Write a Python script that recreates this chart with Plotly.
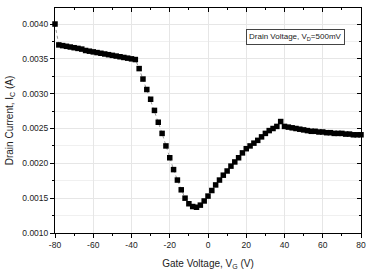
import plotly.graph_objects as go

gate_voltage = [-80, -78, -76, -74, -72, -70, -68, -66, -64, -62, -60, -58, -56, -54, -52, -50,
                -48, -46, -44, -42, -40, -38, -36, -34, -32, -30, -28, -26, -24, -22, -20, -18,
                -16, -14, -12, -10, -8, -6, -4, -2, 0, 2, 4, 6, 8, 10, 12, 14, 16, 18, 20, 22,
                24, 26, 28, 30, 32, 34, 36, 38, 40, 42, 44, 46, 48, 50, 52, 54, 56, 58, 60, 62,
                64, 66, 68, 70, 72, 74, 76, 78, 80]
drain_current = [0.00400, 0.00370, 0.00369, 0.00368, 0.00367, 0.00366, 0.00365, 0.00364,
                 0.00362, 0.00361, 0.00360, 0.00359, 0.00358, 0.00357, 0.00356, 0.00355,
                 0.00354, 0.00353, 0.00352, 0.00351, 0.00350, 0.00349, 0.00336, 0.00321,
                 0.00306, 0.00292, 0.00276, 0.00259, 0.00243, 0.00225, 0.00208, 0.00191,
                 0.00176, 0.00162, 0.00150, 0.00142, 0.00138, 0.00137, 0.00140, 0.00146,
                 0.00153, 0.00161, 0.00169, 0.00176, 0.00183, 0.00189, 0.00196, 0.00202,
                 0.00208, 0.00215, 0.00221, 0.00225, 0.00229, 0.00233, 0.00238, 0.00243,
                 0.00247, 0.00250, 0.00253, 0.00260, 0.00253, 0.00252, 0.00251, 0.00250,
                 0.00249, 0.00248, 0.00247, 0.00246, 0.00246, 0.00245, 0.00245, 0.00244,
                 0.00244, 0.00243, 0.00243, 0.00243, 0.00242, 0.00242, 0.00241, 0.00241,
                 0.00241]

x_ticks = [-80, -60, -40, -20, 0, 20, 40, 60, 80]
x_tick_labels = ["-80", "-60", "-40", "-20", "0", "20", "40", "60", "80"]
y_ticks = [0.0010, 0.0015, 0.0020, 0.0025, 0.0030, 0.0035, 0.0040]
y_tick_labels = ["0.0010", "0.0015", "0.0020", "0.0025", "0.0030", "0.0035", "0.0040"]
x_range = [-80, 80]
y_range = [0.0010, 0.00423]

font = "Liberation Sans, Arial, sans-serif"

fig = go.Figure()
fig.add_trace(go.Scatter(
    x=gate_voltage, y=drain_current, mode="lines+markers",
    line=dict(color="#9a9a9a", width=1, dash="dot"),
    marker=dict(symbol="square", size=5.5, color="black"),
    cliponaxis=False, showlegend=False,
))

axis_common = dict(showline=True, linecolor="black", linewidth=1, zeroline=False,
                   ticklen=4, tickcolor="black", tickwidth=1,
                   tickfont=dict(family=font, size=8.5, color="#222"))

fig.update_layout(
    width=373, height=274,
    margin=dict(l=55, r=7, t=8, b=37),
    paper_bgcolor="white", plot_bgcolor="white",
    xaxis=dict(range=x_range, tickvals=x_ticks, ticktext=x_tick_labels, ticks="outside",
               showgrid=True, gridcolor="#e6e6e6", gridwidth=1,
               minor=dict(dtick=10, ticks="outside", ticklen=2, tickcolor="black", showgrid=False),
               title=dict(text="Gate Voltage, V<sub>G</sub> (V)", font=dict(family=font, size=10, color="#222"), standoff=10),
               **axis_common),
    yaxis=dict(range=y_range, tickvals=y_ticks, ticktext=y_tick_labels, ticks="outside",
               showgrid=True, gridcolor="#e6e6e6", gridwidth=1,
               minor=dict(dtick=0.00025, ticks="outside", ticklen=2, tickcolor="black",
                          showgrid=True, gridcolor="#f0f0f0"),
               title=dict(text="Drain Current, I<sub>C</sub> (A)", font=dict(family=font, size=10, color="#222"), standoff=6),
               **axis_common),
    xaxis2=dict(overlaying="x", side="top", anchor="y", range=x_range, tickvals=x_ticks,
                ticks="inside", showticklabels=False, showgrid=False, showline=True,
                linecolor="black", linewidth=1, ticklen=4, tickcolor="black", zeroline=False,
                minor=dict(dtick=10, ticks="inside", ticklen=2, tickcolor="black")),
    yaxis2=dict(overlaying="y", side="right", anchor="x", range=y_range, tickvals=y_ticks,
                ticks="inside", showticklabels=False, showgrid=False, showline=True,
                linecolor="black", linewidth=1, ticklen=4, tickcolor="black", zeroline=False,
                minor=dict(dtick=0.00025, ticks="inside", ticklen=2, tickcolor="black")),
    annotations=[dict(
        text="Drain Voltage, V<sub>D</sub>=500mV", xref="paper", yref="paper",
        x=0.785, y=0.873, xanchor="center", yanchor="middle", showarrow=False,
        font=dict(family=font, size=8, color="#222"),
        bordercolor="#444", borderwidth=1, borderpad=2, bgcolor="white",
    )],
)
fig.add_trace(go.Scatter(x=[None], y=[None], xaxis="x2", yaxis="y2", showlegend=False, hoverinfo="skip"))

fig.write_html("out.html")
